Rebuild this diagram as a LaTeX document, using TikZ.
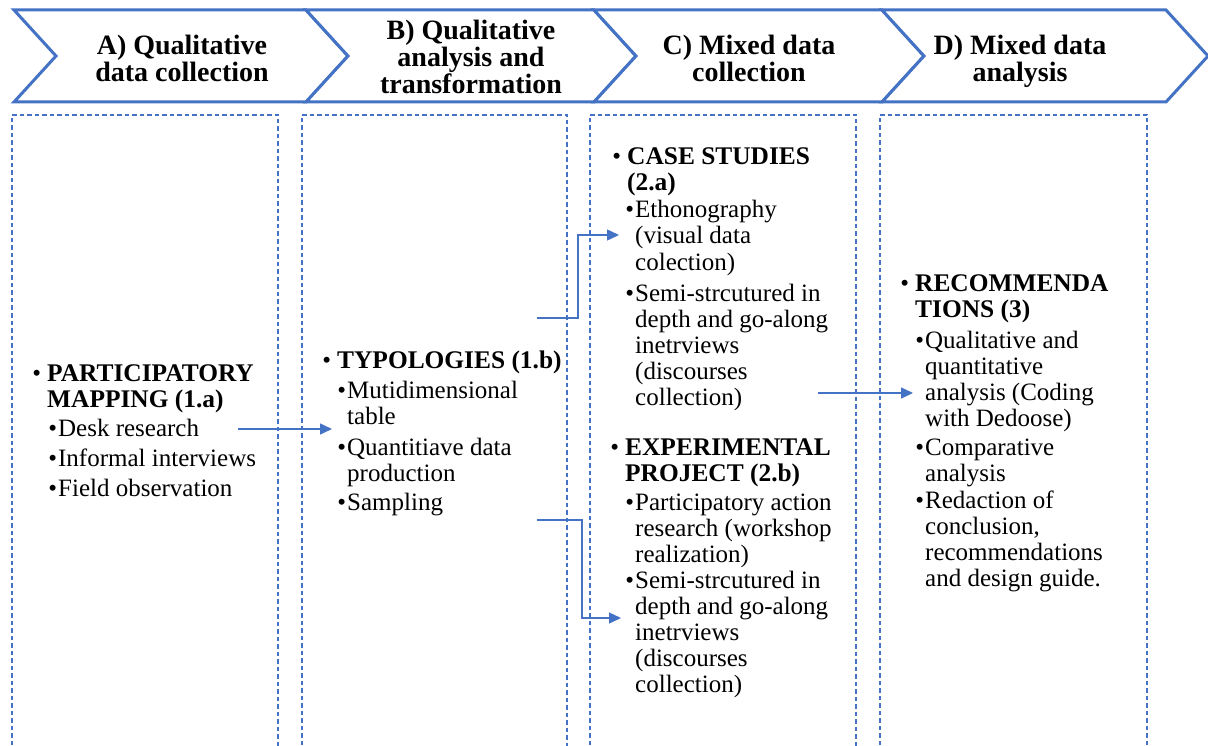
\documentclass[tikz,border=0pt]{standalone}
\usepackage{fontspec}
\setmainfont{Liberation Serif}
\usetikzlibrary{arrows.meta}
\definecolor{cblue}{HTML}{4472C4}
\tikzset{
  chev/.style={draw=cblue, line width=3pt, fill=white, line join=miter},
  colbox/.style={draw=cblue, dash pattern=on 4.5pt off 3pt, line width=1.2pt},
  hdr/.style={font=\fontsize{28}{27}\selectfont\bfseries, align=center, inner sep=0pt},
  itm/.style={font=\fontsize{25}{26}\selectfont, align=left, anchor=base west, inner sep=0pt},
  bitm/.style={font=\fontsize{25.4}{26}\selectfont\bfseries, align=left, anchor=base west, inner sep=0pt},
  link/.style={draw=cblue, line width=1.4pt, -{Triangle[length=12pt,width=11pt]}},
}
\newcommand{\topbul}{\llap{\normalfont\fontsize{25}{26}\selectfont•\hspace{6pt}}}
\newcommand{\subbul}{\llap{•\hspace{1pt}}}
\begin{document}
\begin{tikzpicture}[x=1pt,y=-1pt]
\useasboundingbox (0,0) rectangle (1208,746);
\clip (0,0) rectangle (1208,746);
% chevrons
\def\d{42}
\foreach \L/\R/\nm in {14/306/A,306/594/B,594/882/C,882/1166/D}{
  \draw[chev] (\L,10) -- (\R,10) -- (\R+\d,56) -- (\R,102) -- (\L,102) -- (\L+\d,56) -- cycle;
}
\node[hdr] (hA) at (182,58) {A) Qualitative\\data collection};
\node[hdr] (hB) at (471,57) {B) Qualitative\\analysis and\\transformation};
\node[hdr] (hC) at (749,58) {C) Mixed data\\collection};
\node[hdr] (hD) at (1020,61) {D) Mixed data\\analysis};
% column boxes
\draw[colbox] (12,760) -- (12,115) -- (278,115) -- (278,760);
\draw[colbox] (302,760) -- (302,115) -- (567,115) -- (567,760);
\draw[colbox] (590,760) -- (590,115) -- (856,115) -- (856,760);
\draw[colbox] (880,760) -- (880,115) -- (1147,115) -- (1147,760);
% column A (anchors at the baseline of the last line)
\node[bitm] (a1) at (47,407) {\topbul PARTICIPATORY\\MAPPING (1.a)};
\node[itm] (a2) at (58,436) {\subbul Desk research};
\node[itm] (a3) at (58,466) {\subbul Informal interviews};
\node[itm] (a4) at (58,496) {\subbul Field observation};
% column B
\node[bitm] (b1) at (337,368) {\topbul TYPOLOGIES (1.b)};
\node[itm] (b2) at (347,424) {\subbul Mutidimensional\\table};
\node[itm] (b3) at (347,481) {\subbul Quantitiave data\\production};
\node[itm] (b4) at (347,510) {\subbul Sampling};
% column C
\node[bitm] (c1) at (627,191) {\topbul CASE STUDIES\\(2.a)};
\node[itm] (c2) at (635,270) {\subbul Ethonography\\(visual data\\colection)};
\node[itm] (c3) at (635,405) {\subbul Semi-strcutured in\\depth and go-along\\inetrviews\\(discourses\\collection)};
\node[bitm] (c4) at (625,481) {\topbul EXPERIMENTAL\\PROJECT (2.b)};
\node[itm] (c5) at (635,562) {\subbul Participatory action\\research (workshop\\realization)};
\node[itm] (c6) at (635,692) {\subbul Semi-strcutured in\\depth and go-along\\inetrviews\\(discourses\\collection)};
% column D
\node[bitm] (d1) at (915,317) {\topbul RECOMMENDA\\TIONS (3)};
\node[itm] (d2) at (925,426) {\subbul Qualitative and\\quantitative\\analysis (Coding\\with Dedoose)};
\node[itm] (d3) at (925,481) {\subbul Comparative\\analysis};
\node[itm] (d4) at (925,586) {\subbul Redaction of\\conclusion,\\recommendations\\and design guide.};
% connectors
\coordinate (s1) at (238,429);
\coordinate (e1) at (332,429);
\draw[link] (s1) -- (e1);
\coordinate (s2) at (537,318);
\coordinate (e2) at (619,235);
\draw[link] (s2) -- (578,318) |- (e2);
\coordinate (s3) at (537,520);
\coordinate (e3) at (621,618);
\draw[link] (s3) -- (582,520) |- (e3);
\coordinate (s4) at (818,393);
\coordinate (e4) at (913,393);
\draw[link] (s4) -- (e4);
\end{tikzpicture}
\end{document}
